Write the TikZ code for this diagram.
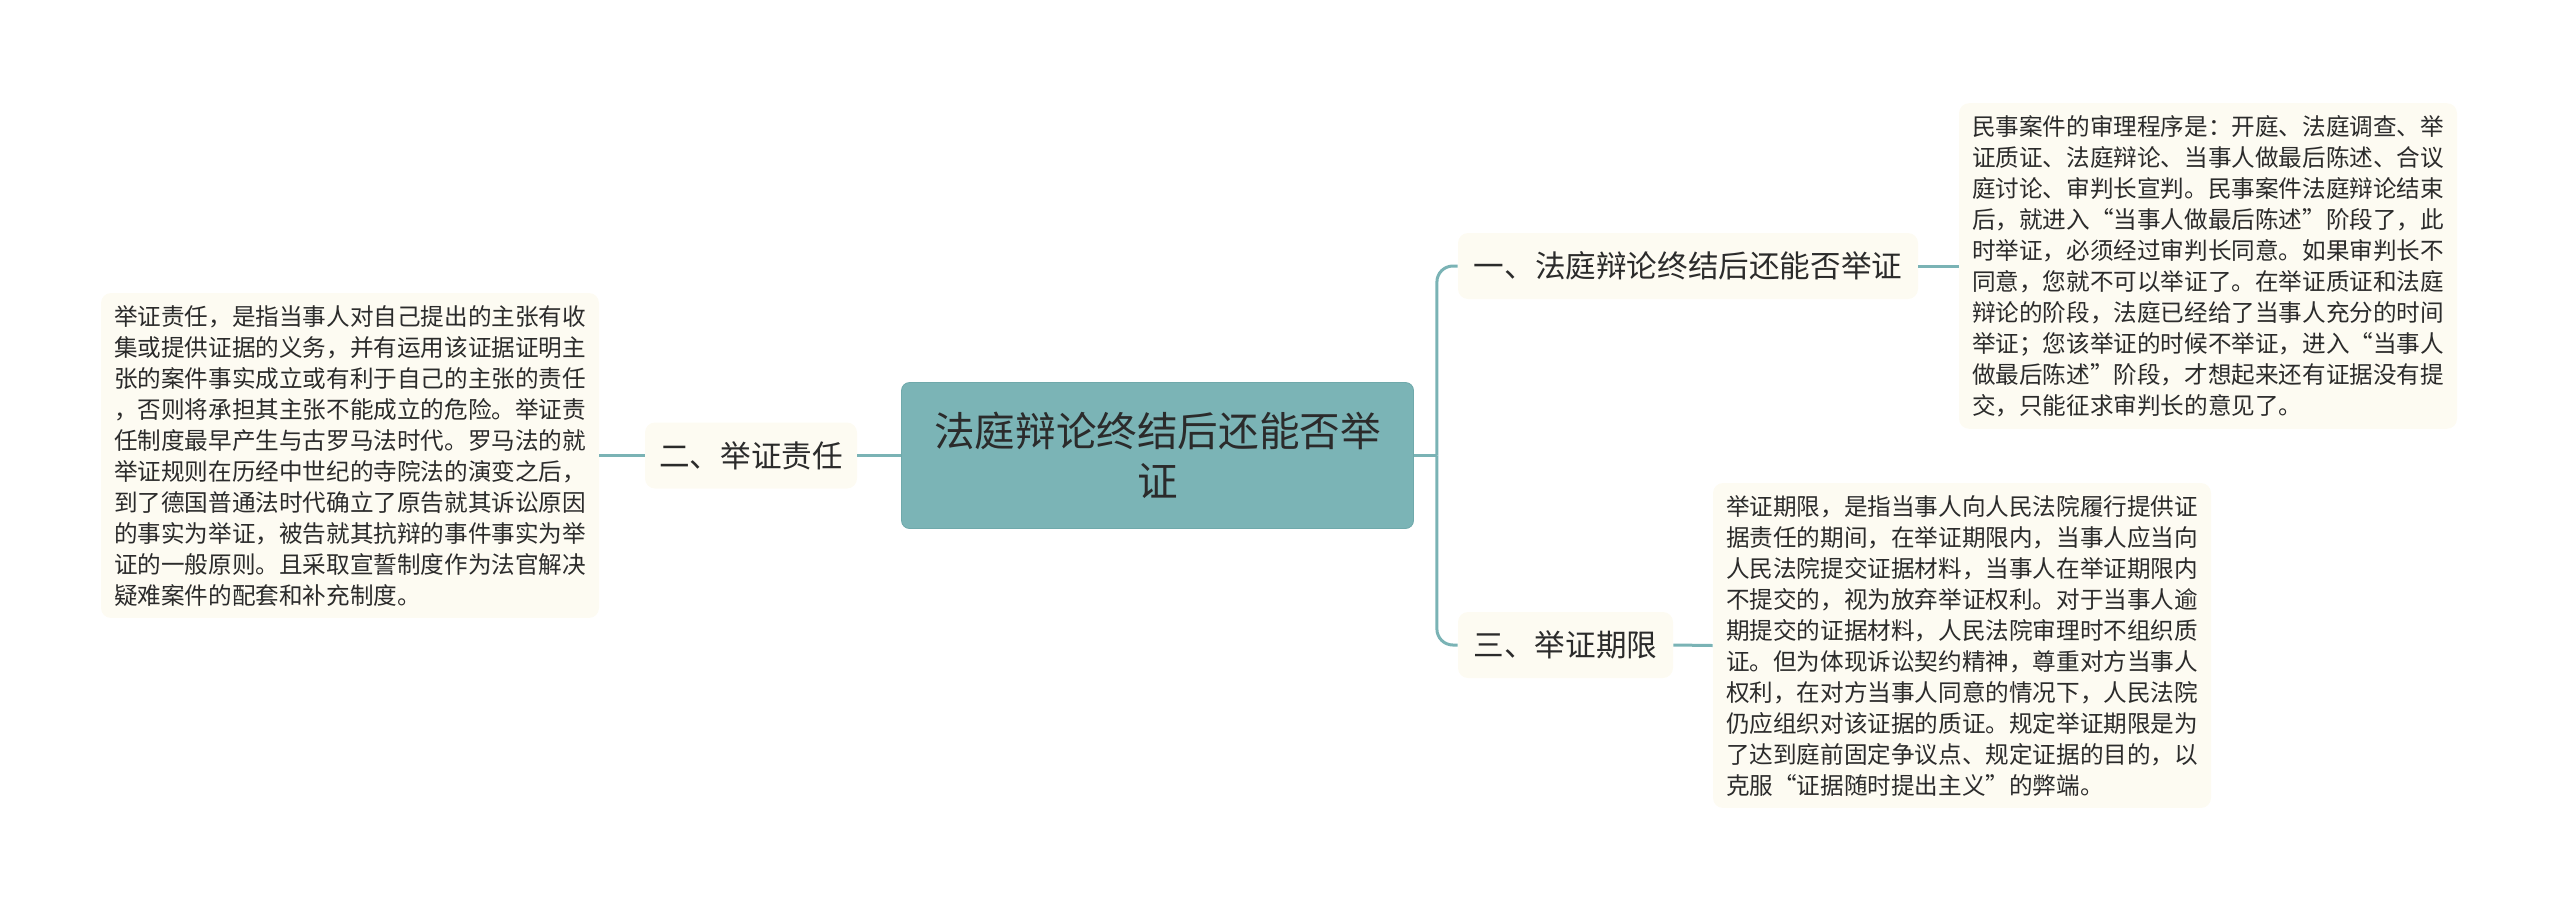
\documentclass[tikz,border=0pt]{standalone}
\usepackage{fontspec}
\setmainfont{Noto Sans CJK SC}
\usetikzlibrary{positioning}
\definecolor{rootfill}{HTML}{7BB4B6}
\definecolor{rootedge}{HTML}{6FA9AB}
\definecolor{linkteal}{HTML}{7AB3B5}
\definecolor{leaffill}{HTML}{FDFBF2}
\definecolor{inkdark}{HTML}{2B2B2B}

\begin{document}
\begin{tikzpicture}[x=0.5pt, y=-0.5pt,
                rootbox/.style={draw=rootedge, fill=rootfill, rounded corners=4pt,
                            minimum width=256pt, minimum height=73pt,
                            align=center, text=inkdark,
                            font=\fontsize{20.3}{25.3}\selectfont},
                topic/.style={fill=leaffill, rounded corners=5pt,
                            minimum height=33pt, inner sep=0pt,
                            text=inkdark, font=\fontsize{15.3}{18}\selectfont},
                leaf/.style={fill=leaffill, rounded corners=5pt,
                            minimum width=249pt, minimum height=162pt,
                            inner sep=6pt, align=left, text=inkdark,
                            font=\fontsize{11.8}{15.5}\selectfont},
                link/.style={draw=linkteal, line width=1.5pt}]
                \useasboundingbox (0,0) rectangle (2560,911);
                % centre and the three topics
                \node[rootbox] (root) at (1157.5,455.5) {法庭辩论终结后还能否举\\证};
                \node[topic, minimum width=230pt] (t1) at (1688,266) {一、法庭辩论终结后还能否举证};
                \node[topic, minimum width=106pt] (t2) at (751,455.5) {二、举证责任};
                \node[topic, minimum width=107.5pt] (t3) at (1565.5,645) {三、举证期限};
                % notes
                \node[leaf] (l1) at (2208,266) {民事案件的审理程序是：开庭、法庭调查、举\\
                    证质证、法庭辩论、当事人做最后陈述、合议\\
                    庭讨论、审判长宣判。民事案件法庭辩论结束\\
                    后，就进入“当事人做最后陈述”阶段了，此\\
                    时举证，必须经过审判长同意。如果审判长不\\
                    同意，您就不可以举证了。在举证质证和法庭\\
                    辩论的阶段，法庭已经给了当事人充分的时间\\
                    举证；您该举证的时候不举证，进入“当事人\\
                    做最后陈述”阶段，才想起来还有证据没有提\\
                    交，只能征求审判长的意见了。};
                \node[leaf] (l2) at (350,455.5) {举证责任，是指当事人对自己提出的主张有收\\
                    集或提供证据的义务，并有运用该证据证明主\\
                    张的案件事实成立或有利于自己的主张的责任\\
                    ，否则将承担其主张不能成立的危险。举证责\\
                    任制度最早产生与古罗马法时代。罗马法的就\\
                    举证规则在历经中世纪的寺院法的演变之后，\\
                    到了德国普通法时代确立了原告就其诉讼原因\\
                    的事实为举证，被告就其抗辩的事件事实为举\\
                    证的一般原则。且采取宣誓制度作为法官解决\\
                    疑难案件的配套和补充制度。};
                \node[leaf] (l3) at (1962,645.5) {举证期限，是指当事人向人民法院履行提供证\\
                    据责任的期间，在举证期限内，当事人应当向\\
                    人民法院提交证据材料，当事人在举证期限内\\
                    不提交的，视为放弃举证权利。对于当事人逾\\
                    期提交的证据材料，人民法院审理时不组织质\\
                    证。但为体现诉讼契约精神，尊重对方当事人\\
                    权利，在对方当事人同意的情况下，人民法院\\
                    仍应组织对该证据的质证。规定举证期限是为\\
                    了达到庭前固定争议点、规定证据的目的，以\\
                    克服“证据随时提出主义”的弊端。};
                % connectors
                \draw[link] (root.east) -- ++(23,0) coordinate (fork);
                \draw[link, rounded corners=8pt] (fork) |- (t1.west);
                \draw[link, rounded corners=8pt] (fork) |- (t3.west);
                \draw[link] (root.west) -- (t2.east);
                \draw[link] (t2.west) -- (l2.east);
                \draw[link] (t1.east) -- (l1.west);
                \draw[link] (t3.east) -- (l3.west);
            \end{tikzpicture}
\end{document}
